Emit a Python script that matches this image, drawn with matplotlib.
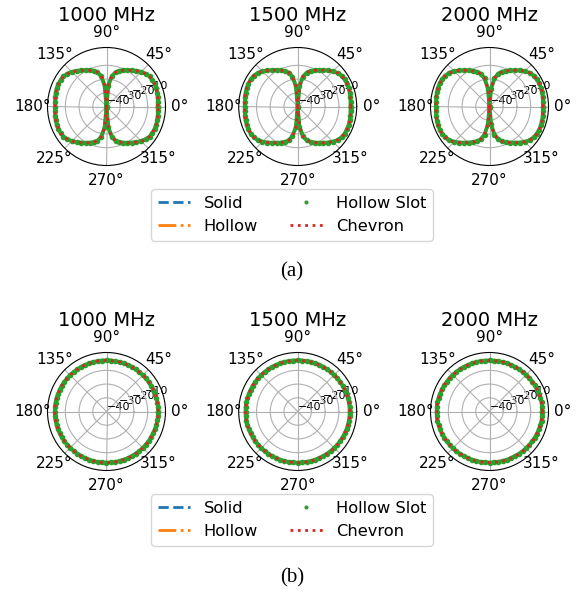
import numpy as np
import matplotlib.pyplot as plt

# angles of the samples, degrees
angles = list(range(0, 360, 5))

freqs = ['1000 MHz', '1500 MHz', '2000 MHz']
series = ['Solid', 'Hollow', 'Hollow Slot', 'Chevron']

# (a) gain in dB, every 5 deg
gain_a_1000 = [-2.6, -2.4, -2.1, -1.7, -1.4, -1.3, -1.4, -1.7, -2.8, -4.3, -6.1, -7.9, -9.4, -10.9, -12.3, -14.1, -17.4, -24.7, -40.0,
               -24.7, -17.4, -14.1, -12.3, -10.9, -9.4, -7.9, -6.1, -4.3, -2.8, -1.7, -1.4, -1.3, -1.4, -1.7, -2.1, -2.4, -2.6,
               -2.4, -2.1, -1.7, -1.4, -1.3, -1.4, -1.7, -2.8, -4.3, -6.1, -7.9, -9.4, -10.9, -12.3, -14.1, -17.4, -24.7, -40.0,
               -24.7, -17.4, -14.1, -12.3, -10.9, -9.4, -7.9, -6.1, -4.3, -2.8, -1.7, -1.4, -1.3, -1.4, -1.7, -2.1, -2.4]
gain_a_1500 = [-1.4, -1.3, -1.0, -0.7, -0.5, -0.4, -0.5, -0.9, -2.0, -3.7, -5.7, -7.7, -9.4, -11.0, -12.5, -14.4, -17.9, -25.2, -40.0,
               -25.2, -17.9, -14.4, -12.5, -11.0, -9.4, -7.7, -5.7, -3.7, -2.0, -0.9, -0.5, -0.4, -0.5, -0.7, -1.0, -1.3, -1.4,
               -1.3, -1.0, -0.7, -0.5, -0.4, -0.5, -0.9, -2.0, -3.7, -5.7, -7.7, -9.4, -11.0, -12.5, -14.4, -17.9, -25.2, -40.0,
               -25.2, -17.9, -14.4, -12.5, -11.0, -9.4, -7.7, -5.7, -3.7, -2.0, -0.9, -0.5, -0.4, -0.5, -0.7, -1.0, -1.3]
gain_a_2000 = [-1.0, -0.9, -0.6, -0.3, -0.1, 0.0, -0.2, -0.7, -1.8, -3.6, -5.7, -7.8, -9.6, -11.3, -13.0, -15.2, -19.2, -27.0, -40.0,
               -27.0, -19.2, -15.2, -13.0, -11.3, -9.6, -7.8, -5.7, -3.6, -1.8, -0.7, -0.2, 0.0, -0.1, -0.3, -0.6, -0.9, -1.0,
               -0.9, -0.6, -0.3, -0.1, 0.0, -0.2, -0.7, -1.8, -3.6, -5.7, -7.8, -9.6, -11.3, -13.0, -15.2, -19.2, -27.0, -40.0,
               -27.0, -19.2, -15.2, -13.0, -11.3, -9.6, -7.8, -5.7, -3.6, -1.8, -0.7, -0.2, 0.0, -0.1, -0.3, -0.6, -0.9]

# (b) gain in dB
gain_b_1000 = [-2.3, -2.3, -2.3, -2.3, -2.4, -2.4, -2.4, -2.5, -2.5, -2.5, -2.6, -2.6, -2.6, -2.6, -2.7, -2.7, -2.7, -2.7, -2.7,
               -2.7, -2.7, -2.7, -2.7, -2.6, -2.6, -2.6, -2.6, -2.5, -2.5, -2.5, -2.4, -2.4, -2.4, -2.3, -2.3, -2.3, -2.3,
               -2.3, -2.3, -2.3, -2.4, -2.4, -2.4, -2.5, -2.5, -2.5, -2.6, -2.6, -2.6, -2.6, -2.7, -2.7, -2.7, -2.7, -2.7,
               -2.7, -2.7, -2.7, -2.7, -2.6, -2.6, -2.6, -2.6, -2.5, -2.5, -2.5, -2.4, -2.4, -2.4, -2.3, -2.3, -2.3]
gain_b_1500 = [-2.0, -2.0, -2.0, -2.1, -2.1, -2.2, -2.2, -2.3, -2.3, -2.4, -2.4, -2.5, -2.5, -2.6, -2.6, -2.6, -2.7, -2.7, -2.7,
               -2.7, -2.7, -2.6, -2.6, -2.6, -2.5, -2.5, -2.4, -2.4, -2.3, -2.3, -2.2, -2.2, -2.1, -2.1, -2.0, -2.0, -2.0,
               -2.0, -2.0, -2.1, -2.1, -2.2, -2.2, -2.3, -2.3, -2.4, -2.4, -2.5, -2.5, -2.6, -2.6, -2.6, -2.7, -2.7, -2.7,
               -2.7, -2.7, -2.6, -2.6, -2.6, -2.5, -2.5, -2.4, -2.4, -2.3, -2.3, -2.2, -2.2, -2.1, -2.1, -2.0, -2.0]
gain_b_2000 = [-1.5, -1.5, -1.5, -1.6, -1.7, -1.8, -1.9, -2.0, -2.1, -2.2, -2.3, -2.4, -2.5, -2.6, -2.6, -2.7, -2.7, -2.8, -2.8,
               -2.8, -2.7, -2.7, -2.6, -2.6, -2.5, -2.4, -2.3, -2.2, -2.1, -2.0, -1.9, -1.8, -1.7, -1.6, -1.5, -1.5, -1.5,
               -1.5, -1.5, -1.6, -1.7, -1.8, -1.9, -2.0, -2.1, -2.2, -2.3, -2.4, -2.5, -2.6, -2.6, -2.7, -2.7, -2.8, -2.8,
               -2.8, -2.7, -2.7, -2.6, -2.6, -2.5, -2.4, -2.3, -2.2, -2.1, -2.0, -1.9, -1.8, -1.7, -1.6, -1.5, -1.5]

r_ticks = [-40, -30, -20, -10]

styles = {
    'Solid': dict(color='C0', ls='--', lw=2),
    'Hollow': dict(color='C1', ls='-.', lw=2),
    'Hollow Slot': dict(color='C2', ls='none', marker='.', ms=6),
    'Chevron': dict(color='C3', ls=':', lw=2),
}

W, H = 576, 595
R = 59  # polar radius in px
centers_x = [106.5, 297.7, 489.5]


def draw_row(fig, center_y, gains, legend_y, caption, caption_y):
    th = np.deg2rad(angles + [360])
    for cx, freq, g in zip(centers_x, freqs, gains):
        rect = [(cx - R) / W, 1 - (center_y + R) / H, 2 * R / W, 2 * R / H]
        ax = fig.add_axes(rect, projection='polar')
        gg = g + [g[0]]
        for s in series:
            if s == 'Hollow Slot':
                # dense dots merge into a band in the original
                ax.plot(th, gg, color='C2', lw=2.8)
            ax.plot(th, gg, label=s, **styles[s])
        ax.set_rlim(-40, 3)
        ax.set_rticks(r_ticks)
        ax.tick_params(axis='x', labelsize=11, pad=0)
        ax.tick_params(axis='y', labelsize=8)
        ax.set_title(freq, fontsize=14, pad=1)
    handles, labels = ax.get_legend_handles_labels()
    fig.legend(handles, labels, loc='center', bbox_to_anchor=(0.507, legend_y),
               ncol=2, fontsize=11.7, markerscale=0.65)
    fig.text(0.507, caption_y, caption, ha='center', va='center',
             family='Liberation Serif', fontsize=15)


def main():
    fig = plt.figure(figsize=(W / 100, H / 100), dpi=100)
    draw_row(fig, 106.5, [gain_a_1000, gain_a_1500, gain_a_2000], 1 - 215 / H, '(a)', 1 - 272 / H)
    draw_row(fig, 411.5, [gain_b_1000, gain_b_1500, gain_b_2000], 1 - 520 / H, '(b)', 1 - 578 / H)
    fig.savefig('out.png', dpi=100)


if __name__ == '__main__':
    main()
